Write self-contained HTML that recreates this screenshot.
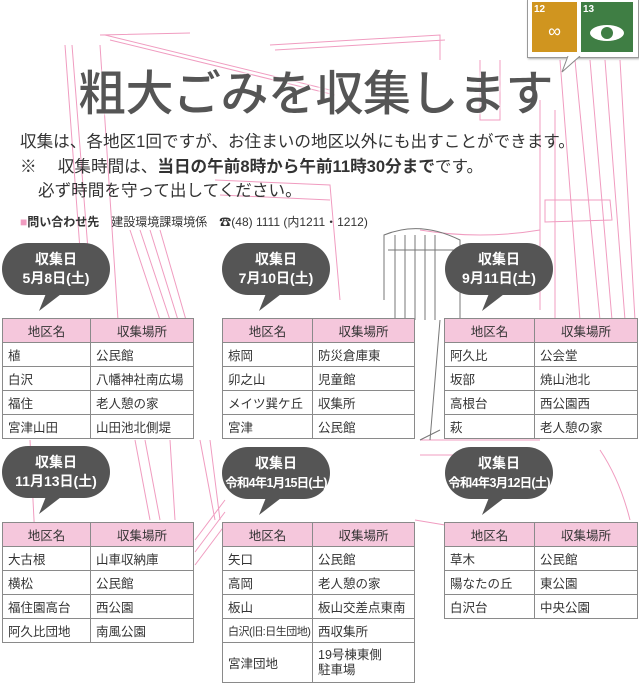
<!DOCTYPE html>
<html><head><meta charset="utf-8"><style>
*{margin:0;padding:0;box-sizing:border-box}
body{width:639px;height:683px;position:relative;background:#fff;overflow:hidden;font-family:"Liberation Sans","Noto Sans CJK JP",sans-serif;color:#333}
.a{position:absolute}
.t{position:absolute;border-collapse:collapse;background:#fff;font-size:12.5px;color:#333}
.t td{border:1px solid #8a8a8a;height:24px;padding:0 0 0 5px;white-space:nowrap}
.t tr:first-child td{background:#f5c7dc;text-align:center;padding:0}
.b{position:absolute;width:108px;height:52px;background:#555;border-radius:26px/26px;color:#fff;font-weight:bold;text-align:center;font-size:14px;line-height:19px;padding-top:7px}
.b:after{content:"";position:absolute;left:38px;bottom:-16px;border-left:6px solid transparent;border-right:12px solid transparent;border-top:20px solid #555;transform:skewX(-35deg)}
</style></head><body>
<svg class="a" style="left:0;top:0" width="639" height="683">
<g stroke="#f09cc0" stroke-width="1" fill="none">
<path d="M65 45 L80 250 M72 45 L88 250 M100 45 L118 320"/>
<path d="M105 35 L330 90 M110 40 L335 95 M100 35 L190 33"/>
<path d="M270 45 L440 35 L440 60 M275 50 L445 40"/>
<path d="M130 230 L160 320 M140 230 L170 320 M150 230 L178 320 M160 230 L186 320"/>
<path d="M215 180 L330 185 L340 300 M220 195 L330 200"/>
<path d="M480 60 L480 120 L500 120 L500 60"/>
<path d="M560 60 L580 320 M575 60 L600 320 M590 60 L612 320 M605 60 L625 320 M620 60 L635 320"/>
<path d="M540 100 L540 310 M555 110 L555 320"/>
<path d="M545 200 L610 200 L612 220 L545 222 Z"/>
<path d="M420 230 Q480 240 540 230"/>
<path d="M420 440 L540 440 M420 455 L540 455"/>
<path d="M200 440 L215 520 M210 440 L220 520"/>
<path d="M195 540 L225 500 M195 552 L225 512 M195 565 L225 525"/>
<path d="M415 520 L445 525 M600 450 Q620 480 630 520"/>
<path d="M30 440 L40 640 M135 440 L150 520 M145 440 L160 520 M170 440 L175 520"/>
</g>
<g stroke="#777" stroke-width="1" fill="none">
<path d="M384 300 L384 235 Q420 220 460 240 L460 320 M388 250 L455 250 M395 235 L395 320 M405 235 L405 320 M415 235 L415 320 M425 235 L425 320 M435 235 L435 320"/>
<path d="M420 440 L440 430 M430 440 L440 320"/>
</g>
</svg>
<div class="a" style="left:78px;top:54px;font-size:48px;color:#555;font-family:'Noto Sans CJK JP',sans-serif;font-weight:500;letter-spacing:-0.5px;text-shadow:0 0 3px #fff,0 0 3px #fff">粗大ごみを収集します</div>
<div class="a" style="left:527px;top:0;width:112px;height:58px;background:#fff;border:1px solid #999;border-top:none;box-shadow:1px 1px 2px #aaa"></div>
<svg class="a" style="left:560px;top:56px" width="30" height="20"><path d="M8 0 L2 16 L20 0" fill="#fff" stroke="#888"/></svg>
<div class="a" style="left:532px;top:2px;width:45px;height:50px;background:#d0951f;color:#fff;font-size:10px;font-weight:bold;padding:2px">12<div style="font-size:18px;text-align:center;margin-top:6px;font-weight:normal">∞</div></div>
<div class="a" style="left:581px;top:2px;width:52px;height:50px;background:#3f7e44;color:#fff;font-size:10px;font-weight:bold;padding:2px">13<div style="margin:10px auto 0;width:34px;height:16px;background:#fff;border-radius:50%;position:relative"><div style="position:absolute;left:11px;top:2px;width:12px;height:12px;border-radius:50%;background:#3f7e44"></div></div></div>
<div class="a" style="left:20px;top:128px;font-size:16.6px;letter-spacing:0">収集は、各地区1回ですが、お住まいの地区以外にも出すことができます。</div>
<div class="a" style="left:20px;top:153px;font-size:16.6px">※　 収集時間は、<b>当日の午前8時から午前11時30分まで</b>です。</div>
<div class="a" style="left:38px;top:177px;font-size:16.6px">必ず時間を守って出してください。</div>
<div class="a" style="left:20px;top:213px;font-size:12px"><span style="color:#f09cc0">■</span><b>問い合わせ先</b>　建設環境課環境係　<b>☎</b>(48) 1111 (内1211・1212)</div>

<div class="b" style="left:2px;top:243px">収集日<br>5月8日(土)</div>
<div class="b" style="left:222px;top:243px">収集日<br>7月10日(土)</div>
<div class="b" style="left:445px;top:243px">収集日<br>9月11日(土)</div>
<div class="b" style="left:2px;top:446px">収集日<br>11月13日(土)</div>
<div class="b" style="left:222px;top:447px">収集日<br><span style="font-size:12.5px;letter-spacing:-0.8px">令和4年1月15日(土)</span></div>
<div class="b" style="left:445px;top:447px">収集日<br><span style="font-size:12.5px;letter-spacing:-0.8px">令和4年3月12日(土)</span></div>

<table class="t" style="left:2px;top:318px;width:192px"><tr><td style="width:88px">地区名</td><td>収集場所</td></tr>
<tr><td>植</td><td>公民館</td></tr><tr><td>白沢</td><td>八幡神社南広場</td></tr><tr><td>福住</td><td>老人憩の家</td></tr><tr><td>宮津山田</td><td>山田池北側堤</td></tr></table>
<table class="t" style="left:222px;top:318px;width:193px"><tr><td style="width:90px">地区名</td><td>収集場所</td></tr>
<tr><td>椋岡</td><td>防災倉庫東</td></tr><tr><td>卯之山</td><td>児童館</td></tr><tr><td>メイツ巽ケ丘</td><td>収集所</td></tr><tr><td>宮津</td><td>公民館</td></tr></table>
<table class="t" style="left:444px;top:318px;width:194px"><tr><td style="width:90px">地区名</td><td>収集場所</td></tr>
<tr><td>阿久比</td><td>公会堂</td></tr><tr><td>坂部</td><td>焼山池北</td></tr><tr><td>高根台</td><td>西公園西</td></tr><tr><td>萩</td><td>老人憩の家</td></tr></table>
<table class="t" style="left:2px;top:522px;width:192px"><tr><td style="width:88px">地区名</td><td>収集場所</td></tr>
<tr><td>大古根</td><td>山車収納庫</td></tr><tr><td>横松</td><td>公民館</td></tr><tr><td>福住園高台</td><td>西公園</td></tr><tr><td>阿久比団地</td><td>南風公園</td></tr></table>
<table class="t" style="left:222px;top:522px;width:193px"><tr><td style="width:90px">地区名</td><td>収集場所</td></tr>
<tr><td>矢口</td><td>公民館</td></tr><tr><td>高岡</td><td>老人憩の家</td></tr><tr><td>板山</td><td>板山交差点東南</td></tr><tr><td style="font-size:11px;letter-spacing:-0.5px">白沢(旧:日生団地)</td><td>西収集所</td></tr><tr><td style="height:40px">宮津団地</td><td style="line-height:15px">19号棟東側<br>駐車場</td></tr></table>
<table class="t" style="left:444px;top:522px;width:194px"><tr><td style="width:90px">地区名</td><td>収集場所</td></tr>
<tr><td>草木</td><td>公民館</td></tr><tr><td>陽なたの丘</td><td>東公園</td></tr><tr><td>白沢台</td><td>中央公園</td></tr></table>
</body></html>
